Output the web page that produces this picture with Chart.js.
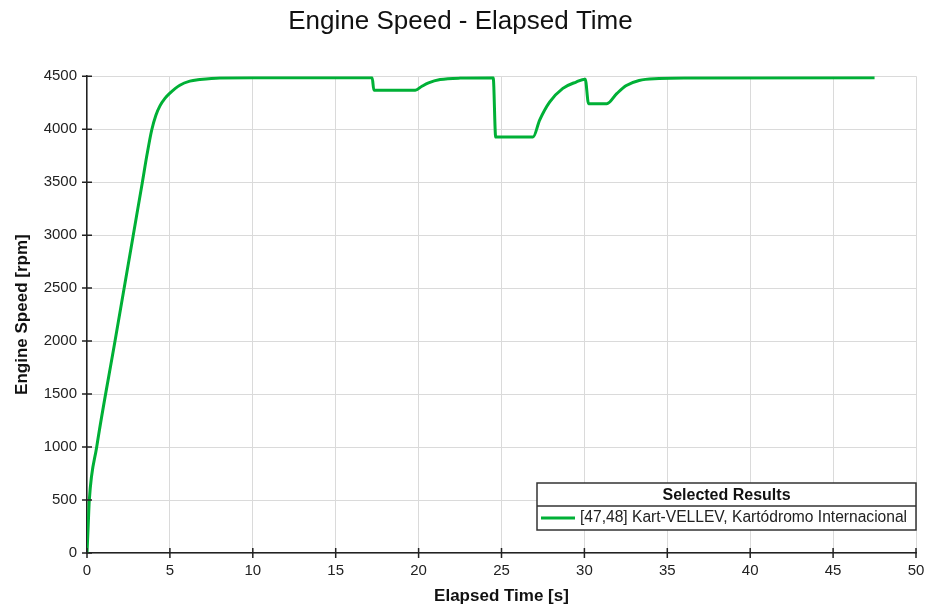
<!DOCTYPE html>
<html>
<head>
<meta charset="utf-8">
<script src="https://cdn.jsdelivr.net/npm/chart.js@4/dist/chart.umd.min.js"></script>
<style>
  html, body { margin: 0; padding: 0; background: #fff; }
  #wrap { width: 928px; height: 608px; position: relative; }
</style>
</head>
<body>
<div id="wrap"><canvas id="speedChart"></canvas></div>
<script>
// values
const elapsedTime = [0, 0.07, 0.14, 0.585, 1.69, 2.79, 3.34, 3.62, 3.9, 4.15, 4.4, 4.7, 5.0, 5.6, 6.2, 6.8, 8.0, 10, 17.2,
  17.3, 19.8, 20.2, 20.6, 21.3, 22.5, 24.5,
  24.65, 26.9, 27.3, 27.9, 28.7, 29.5, 30.05,
  30.25, 31.35, 31.95, 32.5, 33.3, 34.5, 36, 47.5];
const engineSpeed = [0, 250, 500, 1000, 2000, 3000, 3500, 3760, 3990, 4130, 4220, 4290, 4340, 4415, 4453, 4468, 4484, 4485, 4485,
  4368, 4368, 4405, 4437, 4468, 4482, 4485,
  3925, 3925, 4085, 4255, 4385, 4445, 4472,
  4240, 4240, 4335, 4410, 4460, 4478, 4484, 4485];
const xTicks = { min: 0, max: 50, step: 5 };
const yTicks = { min: 0, max: 4500, step: 500 };
const seriesLabel = '[47,48] Kart-VELLEV, Kartódromo Internacional';
const legendTitle = 'Selected Results';
const lineColor = '#00b036';
const fontFamily = '"Liberation Sans", Arial, sans-serif';

const points = elapsedTime.map((t, i) => ({ x: t, y: engineSpeed[i] }));

// ticks that cross the axis lines, plus the boxed legend
const axisDecor = {
  id: 'axisDecor',
  afterDraw(chart) {
    const { ctx, chartArea: a, scales: { x, y } } = chart;
    ctx.save();
    ctx.strokeStyle = '#222';
    ctx.lineWidth = 1.5;
    ctx.beginPath();
    x.ticks.forEach(t => { const px = x.getPixelForValue(t.value); ctx.moveTo(px, a.bottom - 5); ctx.lineTo(px, a.bottom + 5); });
    y.ticks.forEach(t => { const py = y.getPixelForValue(t.value); ctx.moveTo(a.left - 5, py); ctx.lineTo(a.left + 5, py); });
    ctx.stroke();

    // legend box
    const bx = 537, by = 483, bw = 379, bh = 47, hh = 23;
    ctx.fillStyle = '#fff';
    ctx.fillRect(bx, by, bw, bh);
    ctx.strokeStyle = '#333';
    ctx.lineWidth = 1.5;
    ctx.strokeRect(bx, by, bw, bh);
    ctx.beginPath(); ctx.moveTo(bx, by + hh); ctx.lineTo(bx + bw, by + hh); ctx.stroke();
    ctx.fillStyle = '#111';
    ctx.textBaseline = 'middle';
    ctx.textAlign = 'center';
    ctx.font = `bold 16px ${fontFamily}`;
    ctx.fillText(legendTitle, bx + bw / 2, by + hh / 2 + 1);
    ctx.strokeStyle = lineColor;
    ctx.lineWidth = 3;
    ctx.beginPath(); ctx.moveTo(bx + 4, by + hh + 12); ctx.lineTo(bx + 38, by + hh + 12); ctx.stroke();
    ctx.textAlign = 'left';
    ctx.font = `15.6px ${fontFamily}`;
    ctx.fillStyle = '#222';
    ctx.fillText(seriesLabel, bx + 43, by + hh + 12);
    ctx.restore();
  }
};

const ctx = document.getElementById('speedChart').getContext('2d');
new Chart(ctx, {
  type: 'line',
  data: {
    datasets: [{
      label: seriesLabel,
      data: points,
      borderColor: lineColor,
      borderWidth: 3,
      pointRadius: 0,
      cubicInterpolationMode: 'monotone'
    }]
  },
  options: {
    responsive: true, maintainAspectRatio: false, animation: false,
    layout: { padding: { left: 5, right: 12, top: 0, bottom: 0 } },
    plugins: {
      legend: { display: false },
      tooltip: { enabled: false },
      title: {
        display: true, text: 'Engine Speed - Elapsed Time', color: '#111',
        font: { family: fontFamily, size: 26, weight: 'normal' },
        padding: { top: 6, bottom: 39 }
      }
    },
    scales: {
      x: {
        type: 'linear', min: xTicks.min, max: xTicks.max,
        afterFit: s => { s.height = 55; s.paddingRight = 0; s.paddingLeft = 0; },
        ticks: { stepSize: xTicks.step, padding: 9, color: '#222', callback: v => String(v), font: { family: fontFamily, size: 15 } },
        grid: { color: '#dadada', drawTicks: false, tickLength: 0 },
        border: { color: '#222', width: 1.5 },
        title: { display: true, text: 'Elapsed Time [s]', color: '#111', padding: { top: 0, bottom: 1 },
                 font: { family: fontFamily, size: 17, weight: 'bold' } }
      },
      y: {
        min: yTicks.min, max: yTicks.max,
        afterFit: s => { s.width = 82; },
        ticks: { stepSize: yTicks.step, padding: 10, color: '#222', callback: v => String(v), font: { family: fontFamily, size: 15 } },
        grid: { color: '#dadada', drawTicks: false, tickLength: 0 },
        border: { color: '#222', width: 1.5 },
        title: { display: true, text: 'Engine Speed [rpm]', color: '#111', padding: { top: 7, bottom: 0 },
                 font: { family: fontFamily, size: 17, weight: 'bold' } }
      }
    }
  },
  plugins: [axisDecor]
});
</script>
</body>
</html>
